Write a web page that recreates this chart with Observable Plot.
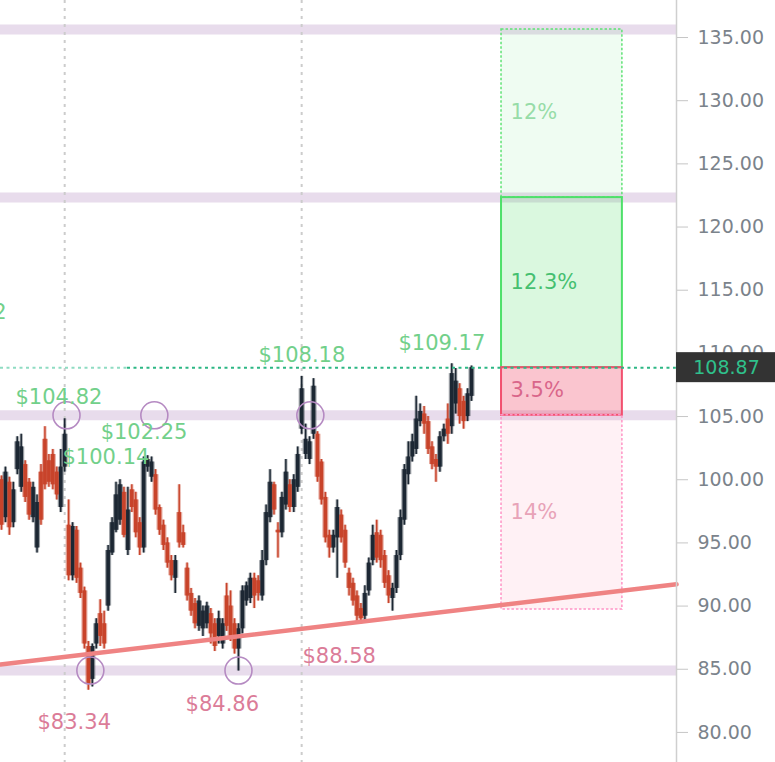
<!DOCTYPE html>
<html><head><meta charset="utf-8">
<script src="https://cdn.jsdelivr.net/npm/d3@7"></script>
<script src="https://cdn.jsdelivr.net/npm/@observablehq/plot@0.6"></script>
<style>
html,body{margin:0;padding:0;background:#fff;}
#chart svg{display:block;}
</style></head><body><div id="chart"></div>
<script>
// ---- candles (index 0..119) ----
const opens = [100.0,97.0,99.8,96.6,100.8,99.4,101.2,99.8,97.0,94.6,100.6,103.2,101.5,102.0,100.6,97.8,101.0,96.4,92.4,96.0,
93.0,91.2,86.8,84.2,87.0,89.4,88.6,90.0,94.2,96.0,96.8,99.0,94.4,99.2,98.4,96.6,94.6,101.0,100.2,100.4,
97.8,96.4,95.0,93.6,92.2,97.4,95.8,93.0,91.0,90.2,88.4,88.2,88.6,89.4,88.6,87.6,87.0,90.8,90.0,88.6,
86.6,88.2,90.4,90.6,92.2,92.0,90.8,93.6,97.0,99.6,96.0,95.8,98.0,99.6,97.8,99.4,104.0,102.0,101.6,103.6,
103.6,101.4,98.6,95.6,94.6,95.4,97.2,96.0,92.6,91.8,90.8,89.8,89.2,91.2,93.6,95.8,95.6,94.0,92.4,90.6,
91.4,94.0,96.8,100.4,101.8,102.4,104.6,105.2,104.6,102.6,101.6,101.0,103.4,104.8,104.2,106.0,107.2,106.2,105.0,106.6];
const highs = [100.3,101.0,100.2,99.8,103.4,103.6,101.5,100.1,99.8,98.8,101.2,104.2,102.0,102.4,101.0,102.4,104.82,98.4,96.6,96.3,
93.4,91.5,87.2,87.0,89.0,90.5,89.6,94.8,97.0,99.8,100.0,99.4,99.4,99.6,99.0,97.0,101.8,101.9,101.8,100.8,
98.0,96.8,95.4,94.0,94.0,99.6,96.4,93.4,91.4,90.6,90.8,90.0,90.3,89.8,89.0,89.6,89.0,91.8,91.2,89.0,
88.6,91.6,91.9,92.6,92.6,92.4,94.4,98.0,100.8,99.8,96.6,99.0,101.6,100.0,100.4,102.6,108.18,104.4,103.4,108.0,
103.8,101.6,99.0,96.0,96.0,98.4,97.6,96.4,93.0,92.2,91.2,90.2,91.6,93.8,96.4,96.8,96.0,94.4,92.8,91.8,
94.4,97.6,101.2,103.0,103.6,106.6,106.0,105.8,105.0,103.0,102.0,103.8,104.4,106.0,109.17,108.8,107.6,106.6,107.2,109.0];
const lows = [96.0,96.6,95.6,96.2,100.4,99.0,98.2,96.8,96.6,94.2,96.4,99.2,99.4,99.2,98.4,97.4,100.6,92.0,92.0,91.8,
90.6,86.6,83.34,83.6,86.6,86.8,86.6,89.6,94.0,95.8,96.4,95.4,94.0,97.4,95.4,94.0,94.2,100.6,99.8,97.2,
95.6,94.4,93.0,92.0,91.0,94.6,94.6,90.4,89.2,88.2,88.0,87.6,88.2,87.0,86.4,87.0,86.6,88.0,87.2,86.2,
84.86,87.8,90.0,90.2,89.8,90.4,90.4,93.2,96.6,97.2,93.8,95.4,97.6,97.4,97.4,99.0,103.6,101.6,101.2,103.2,
99.8,98.0,95.0,93.8,94.2,92.2,95.0,93.0,90.8,90.0,88.58,88.6,88.8,90.8,93.2,93.4,93.0,91.4,90.2,89.6,
91.0,93.6,96.4,99.6,101.4,102.0,104.2,103.6,102.0,100.8,99.8,100.6,103.0,102.8,103.6,105.2,104.4,104.0,104.6,106.2];
const closes = [96.4,100.6,96.2,99.2,103.0,102.6,98.6,97.2,99.4,98.2,96.8,99.6,99.8,99.6,98.8,101.0,103.6,92.4,96.3,92.2,
91.0,87.0,83.8,86.8,88.6,87.6,87.0,94.4,96.6,98.8,99.6,95.6,97.6,97.8,95.8,94.6,101.4,101.6,101.4,97.6,
96.0,94.8,93.4,92.4,93.6,95.0,94.8,90.8,89.6,88.6,90.4,89.6,90.0,87.8,86.8,89.0,88.6,88.4,87.6,86.6,
88.2,91.2,91.6,92.2,90.8,91.0,93.6,97.4,99.8,97.6,95.8,98.6,100.6,97.8,100.0,102.0,107.2,103.2,103.0,107.4,
100.2,98.4,95.4,94.6,95.6,97.8,95.4,93.4,91.4,90.4,89.2,89.0,91.0,93.4,95.6,93.8,93.6,91.8,90.8,91.4,
94.0,97.0,100.8,101.8,103.0,104.8,105.4,104.4,102.4,101.2,101.0,103.4,104.0,103.6,108.4,107.8,105.0,104.6,106.8,108.87];

// ---- scales / axis ----
const xDomain = [-0.25, 170.9];
const yDomain = [77.62, 137.93];
const yTicks = [80, 85, 90, 95, 100, 105, 110, 115, 120, 125, 130, 135];

// ---- annotations ----
const levels = [135.63, 122.33, 105.1, 84.9];
const guideX = [16, 76];
const trendX = [-0.25, 170.9];
const trendY = [85.38, 91.72];
const lastPrice = 108.87;
const splitX = 31.9;
const zoneX = [126.6, 157.2];
const zoneLo = [122.33, 108.87, 105.1, 89.73];
const zoneHi = [135.63, 122.33, 108.87, 105.1];
const zoneText = ["12%", "12.3%", "3.5%", "14%"];
const zoneTextY = [129.06, 115.6, 107.06, 97.4];
const highLabels = ["$104.82", "$102.25", "$100.14", "$108.18", "$109.17"];
const highLabelX = [3.55, 25.1, 15.45, 65.07, 100.5];
const highLabelY = [106.51, 103.74, 101.76, 109.83, 110.78];
const edgeLabel = ["$106.12"];
const edgeLabelX = [1.3];
const edgeLabelY = [113.24];
const lowLabels = ["$83.34", "$84.86", "$88.58"];
const lowLabelX = [9.12, 46.6, 76.2];
const lowLabelY = [80.79, 82.21, 86.01];
const circleX = [16.46, 38.7, 78.2, 22.5, 60];
const circleY = [105.1, 105.1, 105.1, 84.9, 84.9];

const candles = opens.map((o, i) => ({i, open: o, high: highs[i], low: lows[i], close: closes[i]}));
const up = candles.filter(d => d.close >= d.open);
const down = candles.filter(d => d.close < d.open);
const DARK = "#1c2733", RED = "#c8432a";

const zoneStyle = [
  {fill: "#4ee06a", fo: 0.09, stroke: "#5fe275", dash: "2.5,2", sw: 1.5, text: "#97dca8"},
  {fill: "#4ee06a", fo: 0.21, stroke: "#4ee06a", dash: null, sw: 2, text: "#45c070"},
  {fill: "#f0506e", fo: 0.33, stroke: "#f2506f", dash: null, sw: 2, text: "#d9668a"},
  {fill: "#ff7fa0", fo: 0.11, stroke: "#ff94c6", dash: "2.5,2", sw: 1.5, text: "#e8a3b8"}
];

const zoneMarks = zoneText.map((t, k) => {
  const s = zoneStyle[k];
  return [
    Plot.rect([k], {x1: () => zoneX[0], x2: () => zoneX[1], y1: () => zoneLo[k], y2: () => zoneHi[k],
      fill: s.fill, fillOpacity: s.fo, stroke: s.stroke, strokeWidth: s.sw, strokeDasharray: s.dash}),
    Plot.text([t], {x: () => zoneX[0], y: () => zoneTextY[k], text: d => d, dx: 9, textAnchor: "start",
      fill: s.text, fontSize: 21, style: "letter-spacing:1.4px"})
  ];
});

const trend = trendX.map((x, k) => ({x, y: trendY[k]}));
const labelStyle = "letter-spacing:1.2px";

const chart = Plot.plot({
  width: 775, height: 762,
  marginLeft: 0, marginRight: 99, marginTop: 0, marginBottom: 0,
  style: {fontFamily: "'DejaVu Sans', Verdana, sans-serif", background: "#fff"},
  x: {domain: xDomain, axis: null},
  y: {domain: yDomain, axis: null},
  marks: [
    Plot.ruleY(levels, {stroke: "#e8dcec", strokeWidth: 10}),
    Plot.ruleX(guideX, {stroke: "#cccccc", strokeWidth: 2, strokeDasharray: "3,5"}),
    zoneMarks,
    // candles: halo + core
    Plot.ruleX(up, {x: "i", y1: "low", y2: "high", stroke: DARK, strokeOpacity: 0.4, strokeWidth: 3.2}),
    Plot.ruleX(down, {x: "i", y1: "low", y2: "high", stroke: RED, strokeOpacity: 0.4, strokeWidth: 3.2}),
    Plot.ruleX(up, {x: "i", y1: "open", y2: "close", stroke: DARK, strokeOpacity: 0.45, strokeWidth: 6}),
    Plot.ruleX(down, {x: "i", y1: "open", y2: "close", stroke: RED, strokeOpacity: 0.45, strokeWidth: 6}),
    Plot.ruleX(up, {x: "i", y1: "low", y2: "high", stroke: DARK, strokeWidth: 1.4}),
    Plot.ruleX(down, {x: "i", y1: "low", y2: "high", stroke: RED, strokeWidth: 1.4}),
    Plot.ruleX(up, {x: "i", y1: "open", y2: "close", stroke: DARK, strokeWidth: 3.6}),
    Plot.ruleX(down, {x: "i", y1: "open", y2: "close", stroke: RED, strokeWidth: 3.6}),
    // trend line
    Plot.line(trend, {x: "x", y: "y", stroke: "#ef8383", strokeWidth: 4.5}),
    // last price dotted line
    Plot.ruleY([lastPrice], {x1: xDomain[0], x2: splitX, stroke: "#8fdcc2", strokeWidth: 2, strokeDasharray: "3,3.5"}),
    Plot.ruleY([lastPrice], {x1: splitX, x2: xDomain[1], stroke: "#2cb784", strokeWidth: 2, strokeDasharray: "3,3.5"}),
    // circles
    Plot.dot(circleX.map((x, k) => ({x, y: circleY[k]})), {x: "x", y: "y", r: 13.5, stroke: "#b58ac2", strokeWidth: 1.6, fill: "none"}),
    // price labels
    Plot.text(highLabels.map((t, k) => ({t, x: highLabelX[k], y: highLabelY[k]})), {
      x: "x", y: "y", text: "t", textAnchor: "start", fill: "#72d08a", fontSize: 21, style: labelStyle}),
    Plot.text(edgeLabel.map((t, k) => ({t, x: edgeLabelX[k], y: edgeLabelY[k]})), {
      x: "x", y: "y", text: "t", textAnchor: "end", fill: "#72d08a", fontSize: 21, style: labelStyle}),
    Plot.text(lowLabels.map((t, k) => ({t, x: lowLabelX[k], y: lowLabelY[k]})), {
      x: "x", y: "y", text: "t", textAnchor: "start", fill: "#db7c98", fontSize: 21, style: labelStyle}),
    // right axis
    Plot.ruleX([xDomain[1]], {stroke: "#cfcfcf", strokeWidth: 1.5}),
    Plot.axisY(yTicks, {anchor: "right", tickSize: 11, tickPadding: 10, tickFormat: d => d.toFixed(2),
      fontSize: 19, stroke: "#c6c6c6", fill: "#7b838b"}),
    // last price tag
    Plot.rect([lastPrice], {x1: () => xDomain[1], x2: () => xDomain[1], y1: d => d, y2: d => d,
      insetRight: -99, insetTop: -15, insetBottom: -15, fill: "#333333"}),
    Plot.text([lastPrice], {x: () => xDomain[1], y: d => d, dx: 50, text: d => d.toFixed(2),
      fill: "#2fc08b", fontSize: 19})
  ]
});
document.getElementById("chart").appendChild(chart);
</script>
</body></html>
